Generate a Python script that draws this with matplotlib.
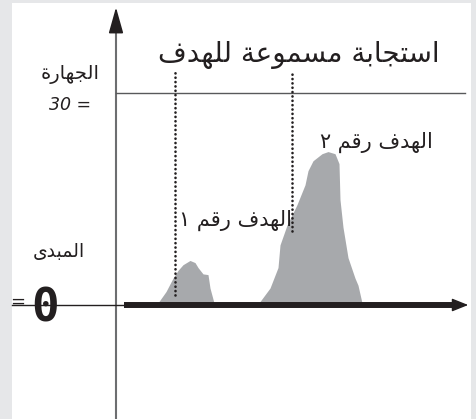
import matplotlib
matplotlib.use("Agg")
import matplotlib.pyplot as plt
from matplotlib.patches import Rectangle

# Arabic presentation forms: isolated, final, initial, medial (None = no such form)
FORMS = {
    'ا': (0xFE8D, 0xFE8E, None, None), 'ب': (0xFE8F, 0xFE90, 0xFE91, 0xFE92),
    'ة': (0xFE93, 0xFE94, None, None), 'ت': (0xFE95, 0xFE96, 0xFE97, 0xFE98),
    'ج': (0xFE9D, 0xFE9E, 0xFE9F, 0xFEA0), 'د': (0xFEA9, 0xFEAA, None, None),
    'ر': (0xFEAD, 0xFEAE, None, None), 'س': (0xFEB1, 0xFEB2, 0xFEB3, 0xFEB4),
    'ع': (0xFEC9, 0xFECA, 0xFECB, 0xFECC), 'ف': (0xFED1, 0xFED2, 0xFED3, 0xFED4),
    'ق': (0xFED5, 0xFED6, 0xFED7, 0xFED8), 'ل': (0xFEDD, 0xFEDE, 0xFEDF, 0xFEE0),
    'م': (0xFEE1, 0xFEE2, 0xFEE3, 0xFEE4), 'ه': (0xFEE9, 0xFEEA, 0xFEEB, 0xFEEC),
    'و': (0xFEED, 0xFEEE, None, None), 'ى': (0xFEEF, 0xFEF0, None, None),
}


def shape(text):
    # join letters and reverse, since matplotlib does no arabic shaping itself
    out = []
    for i, ch in enumerate(text):
        if ch not in FORMS:
            out.append(ch)
            continue
        prev = text[i - 1] if i > 0 else ''
        nxt = text[i + 1] if i + 1 < len(text) else ''
        joins_prev = prev in FORMS and FORMS[prev][2] is not None
        joins_next = nxt in FORMS and FORMS[ch][2] is not None
        f = FORMS[ch]
        if joins_prev and joins_next:
            code = f[3]
        elif joins_prev:
            code = f[1]
        elif joins_next:
            code = f[2]
        else:
            code = f[0]
        out.append(chr(code))
    return ''.join(out)[::-1]


# data: loudness units (0 = onset baseline, 30 = loudness level), time units
loud_level = 30
peak1_t = [4.2, 5.0, 5.7, 6.2, 6.7, 7.4, 7.9, 8.2, 8.7, 9.2, 9.4, 9.8]
peak1_v = [0.0, 1.6, 3.5, 4.6, 5.4, 6.0, 5.7, 5.0, 4.1, 4.0, 2.1, 0.0]
peak2_t = [14.3, 15.4, 16.2, 16.4, 17.1, 18.1, 18.9, 19.2, 19.7, 20.6, 21.2,
           21.9, 22.3, 22.4, 22.7, 23.2, 23.9, 24.2, 24.6]
peak2_v = [0.0, 2.1, 5.0, 8.2, 11.0, 13.9, 16.7, 18.7, 20.1, 21.1, 21.4,
           21.1, 19.7, 14.6, 10.7, 6.4, 3.5, 2.5, 0.0]
response_t = [5.9, 17.6]
response_bottom = [1.4, 10.5]

title = "استجابة مسموعة للهدف"
loud_label = "الجهارة"
onset_label = "المبدى"
target1 = "الهدف رقم ١"
target2 = "الهدف رقم ٢"

PX = 10.0    # pixels per time unit
PY = 7.07    # pixels per loudness unit

fig = plt.figure(figsize=(4.77, 4.19), dpi=100)
ax = fig.add_axes([0, 0, 1, 1])
ax.set_xlim(-116 / PX, (477 - 116) / PX)
ax.set_ylim((305 - 419) / PY, 305 / PY)
ax.axis("off")

gray = "#e6e7e9"
ink = "#231f20"
# page border strips
ax.add_patch(Rectangle((0, 0.993), 1, 0.007, transform=ax.transAxes, color=gray, lw=0))
ax.add_patch(Rectangle((0, 0), 0.025, 1, transform=ax.transAxes, color=gray, lw=0))
ax.add_patch(Rectangle((0.987, 0), 0.013, 1, transform=ax.transAxes, color=gray, lw=0))

# vertical axis with arrow
ax.plot([0, 0], [(305 - 419) / PY, 39.5], color="#6d6e70", lw=1.5)
ax.annotate("", xy=(0, 42.5), xytext=(0, 38.8),
            arrowprops=dict(arrowstyle="-|>,head_length=1.6,head_width=0.45",
                            color=ink, lw=1.2))

# loudness level line
ax.plot([0, 34.9], [loud_level, loud_level], color="#58595b", lw=1.0)
# onset line (thin) and time axis (thick)
ax.plot([-10.4, 0.9], [0, 0], color=ink, lw=1.0)
ax.plot([0.8, 34.4], [0, 0], color=ink, lw=4.3, solid_capstyle="butt")
ax.annotate("", xy=(35.5, 0), xytext=(33.5, 0),
            arrowprops=dict(arrowstyle="-|>,head_length=1.0,head_width=0.4",
                            color=ink, lw=1.0))

# targets
ax.fill_between(peak1_t, 0.3, [v + 0.3 for v in peak1_v], color="#a7a9ac", lw=0)
ax.fill_between(peak2_t, 0.3, [v + 0.3 for v in peak2_v], color="#a7a9ac", lw=0)

# dotted response lines
for t, b in zip(response_t, response_bottom):
    ax.plot([t, t], [b, 33.2], color=ink, lw=1.9, ls=(0, (0.05, 1.6)),
            dash_capstyle="round")

arab = dict(family="DejaVu Sans", color=ink)
ax.text(18.3, 35.3, shape(title), ha="center", va="center", fontsize=20, **arab)
ax.text(-4.6, 32.6, shape(loud_label), ha="center", va="center", fontsize=14, **arab)
ax.text(-4.6, 28.3, "30 =", ha="center", va="center", fontsize=12.5,
        style="italic", family="DejaVu Sans", color=ink)
ax.text(-5.7, 7.5, shape(onset_label), ha="center", va="center", fontsize=13.5, **arab)
ax.text(12.0, 12.0, shape(target1), ha="center", va="center", fontsize=15, **arab)
ax.text(26.0, 23.0, shape(target2), ha="center", va="center", fontsize=15, **arab)

# onset marker "= 0"
ax.text(-9.8, 0.4, "=", ha="center", va="center", fontsize=13, color=ink)
ax.text(-7.1, -0.6, "0", ha="center", va="center", fontsize=33, weight="bold",
        family="DejaVu Sans Mono", color=ink)

fig.savefig("out.png", dpi=100)
